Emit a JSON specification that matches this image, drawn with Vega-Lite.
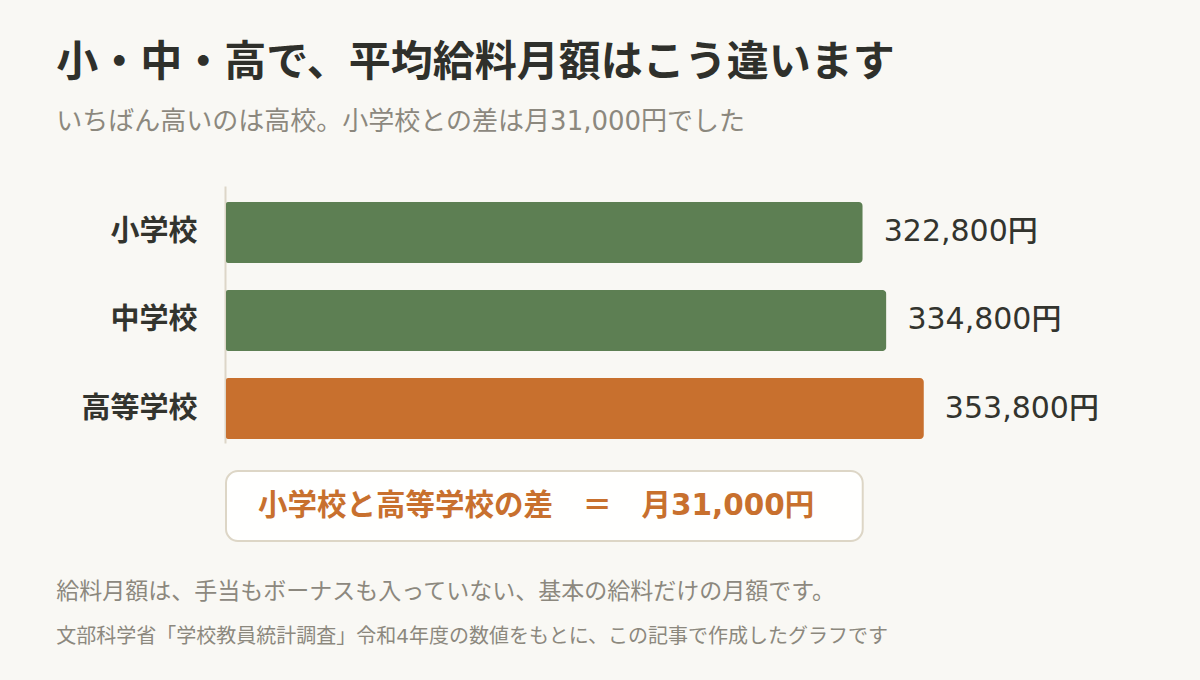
{
  "$schema": "https://vega.github.io/schema/vega-lite/v6.json",
  "background": "#f9f8f4",
  "padding": {"left": 56, "top": 42, "right": 106, "bottom": 26},
  "autosize": {"type": "pad"},
  "config": {
    "view": {"stroke": null},
    "font": "DejaVu Sans, Noto Sans CJK JP"
  },
  "title": {
    "text": "小・中・高で、平均給料月額はこう違います",
    "subtitle": "いちばん高いのは高校。小学校との差は月31,000円でした",
    "anchor": "start",
    "frame": "bounds",
    "font": "DejaVu Sans, Noto Sans CJK JP",
    "fontSize": 42,
    "fontWeight": "bold",
    "color": "#2f302b",
    "subtitleFont": "DejaVu Sans, Noto Sans CJK JP",
    "subtitleFontSize": 26,
    "subtitleColor": "#8c887e",
    "subtitlePadding": 24,
    "offset": 50
  },
  "spacing": 27,
  "resolve": {"scale": {"x": "independent", "y": "independent", "color": "independent"}},
  "vconcat": [
    {
      "width": 789,
      "height": 257,
      "data": {
        "values": [
          {"school": "小学校", "salary": 322800, "label": "322,800円"},
          {"school": "中学校", "salary": 334800, "label": "334,800円"},
          {"school": "高等学校", "salary": 353800, "label": "353,800円"}
        ]
      },
      "encoding": {
        "y": {
          "field": "school",
          "type": "nominal",
          "sort": ["小学校", "中学校", "高等学校"],
          "scale": {"paddingInner": 0.307, "paddingOuter": 0.1136, "align": 0.8},
          "axis": {
            "title": null,
            "ticks": false,
            "tickSize": 0,
            "domainColor": "#ddd6c8",
            "domainWidth": 2,
            "offset": 1,
            "labelPadding": 28,
            "labelFont": "DejaVu Sans, Noto Sans CJK JP",
            "labelFontSize": 29,
            "labelFontWeight": "bold",
            "labelColor": "#33342e",
            "grid": false
          }
        },
        "x": {
          "field": "salary",
          "type": "quantitative",
          "scale": {"domain": [0, 400000], "nice": false, "zero": true},
          "axis": null
        }
      },
      "layer": [
        {
          "mark": {"type": "bar", "cornerRadius": 2, "cornerRadiusEnd": 4},
          "encoding": {
            "color": {
              "field": "school",
              "type": "nominal",
              "scale": {"domain": ["小学校", "中学校", "高等学校"], "range": ["#5d7f53", "#5d7f53", "#c8702e"]},
              "legend": null
            }
          }
        },
        {
          "mark": {"type": "text", "align": "left", "baseline": "middle", "dx": 21, "fontSize": 30, "fontWeight": 500, "color": "#33342e", "font": "DejaVu Sans, Noto Sans CJK JP"},
          "encoding": {"text": {"field": "label"}}
        }
      ]
    },
    {
      "width": 789,
      "height": 70,
      "data": {"values": [{"text": "小学校と高等学校の差　＝　月31,000円", "difference": 31000}]},
      "layer": [
        {
          "mark": {"type": "rect", "fill": "#fffffe", "stroke": "#ddd6c6", "strokeWidth": 2, "cornerRadius": 12},
          "encoding": {
            "x": {"datum": 0, "type": "quantitative", "scale": {"domain": [0, 400000], "nice": false}, "axis": null},
            "x2": {"datum": 322800}
          }
        },
        {
          "mark": {"type": "text", "align": "left", "baseline": "middle", "dx": 32, "fontSize": 29.5, "fontWeight": "bold", "color": "#c8702e", "font": "DejaVu Sans, Noto Sans CJK JP"},
          "encoding": {
            "x": {"datum": 0, "type": "quantitative"},
            "text": {"field": "text"}
          }
        }
      ]
    },
    {
      "width": 789,
      "height": 90,
      "data": {
        "values": [
          {"line": "a", "text": "給料月額は、手当もボーナスも入っていない、基本の給料だけの月額です。"},
          {"line": "b", "text": "文部科学省「学校教員統計調査」令和4年度の数値をもとに、この記事で作成したグラフです"}
        ]
      },
      "encoding": {
        "x": {"datum": -86000, "type": "quantitative", "scale": {"domain": [0, 400000], "nice": false, "zero": false}, "axis": null},
        "y": {"field": "line", "type": "ordinal", "scale": {"type": "point", "domain": ["a", "b"], "padding": 0.5}, "axis": null},
        "text": {"field": "text"}
      },
      "layer": [
        {
          "transform": [{"filter": "datum.line === 'a'"}],
          "mark": {"type": "text", "align": "left", "baseline": "middle", "fontSize": 23, "color": "#8c887e", "font": "DejaVu Sans, Noto Sans CJK JP"}
        },
        {
          "transform": [{"filter": "datum.line === 'b'"}],
          "mark": {"type": "text", "align": "left", "baseline": "middle", "fontSize": 20, "color": "#8c887e", "font": "DejaVu Sans, Noto Sans CJK JP"}
        }
      ]
    }
  ]
}
